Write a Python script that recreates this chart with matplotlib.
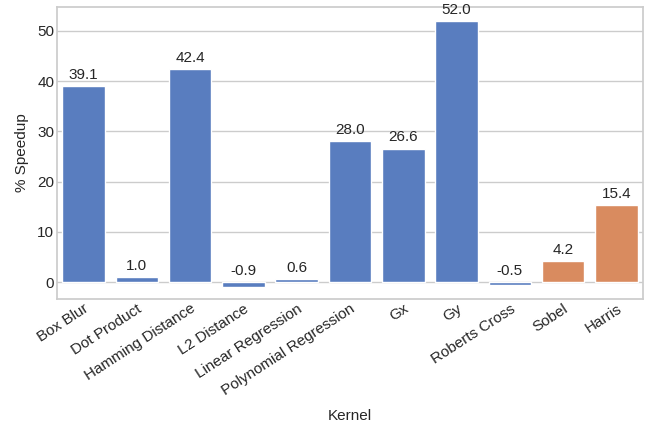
import matplotlib
matplotlib.use('Agg')
import matplotlib.pyplot as plt
import seaborn as sns
import pandas as pd

kernels = ['Box Blur', 'Dot Product', 'Hamming Distance', 'L2 Distance', 'Linear Regression',
           'Polynomial Regression', 'Gx', 'Gy', 'Roberts Cross', 'Sobel', 'Harris']
speedup = [39.1, 1.0, 42.4, -0.9, 0.6, 28.0, 26.6, 52.0, -0.5, 4.2, 15.4]
grupo = ['a'] * 9 + ['b'] * 2

sns.set_theme(style='whitegrid')
plt.rcParams['font.family'] = ['Liberation Sans', 'DejaVu Sans']

df = pd.DataFrame({'Kernel': kernels, 'Speedup': speedup, 'grupo': grupo})
pal = sns.color_palette('muted')
colores = [pal[0] if g == 'a' else pal[1] for g in grupo]

fig, ax = plt.subplots(figsize=(6.47, 4.25), dpi=100)
sns.barplot(data=df, x='Kernel', y='Speedup', hue='Kernel', palette=colores, legend=False, ax=ax)

# etiquetas arriba de cada barra
for i, v in enumerate(speedup):
    ax.text(i, max(v, 0) + 0.8, f'{v:.1f}', ha='center', va='bottom', fontsize=11, color='#262626')

ax.set_ylim(-3.3, 54.8)
ax.set_xlabel('Kernel', fontsize=11, labelpad=8)
ax.set_ylabel('% Speedup', fontsize=11, labelpad=6)
ax.tick_params(axis='both', which='major', labelsize=11, pad=2, length=0)
plt.setp(ax.get_xticklabels(), rotation=33, ha='right', rotation_mode='anchor')
fig.subplots_adjust(left=0.088, right=0.994, top=0.984, bottom=0.297)
plt.savefig('out.png')
